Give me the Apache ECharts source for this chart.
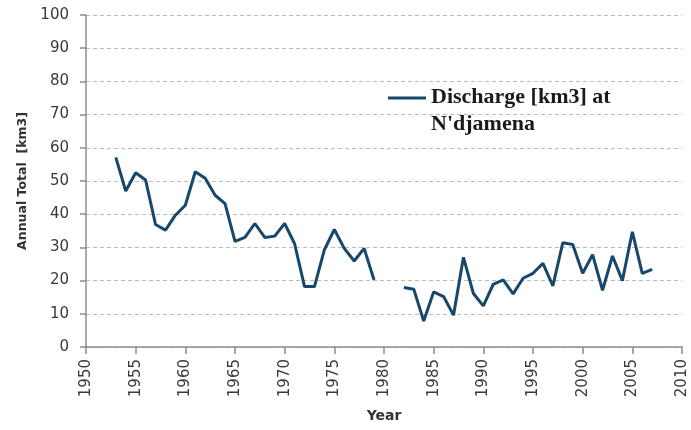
<!DOCTYPE html>
<html>
<head>
<meta charset="utf-8">
<script src="https://cdn.jsdelivr.net/npm/echarts@6/dist/echarts.min.js"></script>
<style>
  html, body { margin: 0; padding: 0; background: #fff; }
  #chart { width: 691px; height: 430px; }
</style>
</head>
<body>
<div id="chart"></div>
<script>
// annual discharge at N'djamena (null = no data)
const years = [
  1953, 1954, 1955, 1956, 1957, 1958, 1959, 1960, 1961, 1962,
  1963, 1964, 1965, 1966, 1967, 1968, 1969, 1970, 1971, 1972,
  1973, 1974, 1975, 1976, 1977, 1978, 1979, 1980, 1981, 1982,
  1983, 1984, 1985, 1986, 1987, 1988, 1989, 1990, 1991, 1992,
  1993, 1994, 1995, 1996, 1997, 1998, 1999, 2000, 2001, 2002,
  2003, 2004, 2005, 2006, 2007
];
const discharge = [
  57.1, 47.0, 52.5, 50.3, 36.9, 35.2, 39.7, 42.7, 52.8, 50.8,
  45.7, 43.2, 31.8, 33.0, 37.2, 33.0, 33.4, 37.2, 31.1, 18.2,
  18.2, 29.3, 35.4, 29.7, 25.9, 29.7, 20.2, null, null, 17.9,
  17.4, 7.8, 16.6, 15.2, 9.6, 27.0, 16.1, 12.4, 18.9, 20.2,
  16.0, 20.7, 22.2, 25.2, 18.4, 31.4, 30.9, 22.2, 27.8, 17.1,
  27.4, 20.0, 34.7, 22.2, 23.4
];
const seriesName = "Discharge [km3] at\nN'djamena";

const lineColor = "#17476b";
const labelFont = "DejaVu Sans";

let myChart = echarts.init(document.getElementById("chart"));
myChart.setOption({
  animation: false,
  backgroundColor: "#fff",
  grid: { left: 86, right: 9, top: 15, bottom: 83 },
  legend: {
    left: 388,
    top: 84,
    padding: 0,
    itemWidth: 38,
    itemHeight: 29,
    // short bar at the top of a tall box, so it sits level with the first text line
    data: [{ name: seriesName, icon: "path://M0,0 L38,0 L38,3 L0,3 Z M0,29 L0.01,29 L0.01,29.01 Z" }],
    textStyle: {
      fontFamily: "Liberation Serif",
      fontWeight: "bold",
      fontSize: 22,
      color: "#1a1a1a",
      lineHeight: 27
    }
  },
  xAxis: {
    type: "value",
    min: 1950,
    max: 2010,
    interval: 5,
    name: "Year",
    nameLocation: "middle",
    nameGap: 62,
    nameTextStyle: { fontFamily: labelFont, fontWeight: "bold", fontSize: 14, color: "#333" },
    axisLine: { show: true, lineStyle: { color: "#8c8c8c", width: 1.5 } },
    axisTick: { show: true, length: 7, lineStyle: { color: "#8c8c8c", width: 1.5 } },
    axisLabel: {
      rotate: 90,
      margin: 12,
      fontFamily: labelFont,
      fontSize: 15,
      color: "#3a3a3a",
      formatter: v => String(v)
    },
    splitLine: { show: false }
  },
  yAxis: {
    type: "value",
    min: 0,
    max: 100,
    interval: 10,
    name: "Annual Total  [km3]",
    nameLocation: "middle",
    nameGap: 47,
    nameTextStyle: { fontFamily: labelFont, fontWeight: "bold", fontSize: 12.5, color: "#333" },
    axisLine: { show: true, lineStyle: { color: "#8c8c8c", width: 1.5 } },
    axisTick: { show: true, length: 6, lineStyle: { color: "#8c8c8c", width: 1.5 } },
    axisLabel: {
      margin: 17,
      fontFamily: labelFont,
      fontSize: 15,
      color: "#3a3a3a"
    },
    splitLine: {
      show: true,
      lineStyle: { color: "#bdbdbd", type: [4, 3], width: 1 }
    }
  },
  series: [
    {
      name: seriesName,
      type: "line",
      data: years.map((y, i) => [y, discharge[i]]),
      showSymbol: false,
      connectNulls: false,
      color: lineColor,
      lineStyle: { color: lineColor, width: 3 }
    }
  ]
});
</script>
</body>
</html>
